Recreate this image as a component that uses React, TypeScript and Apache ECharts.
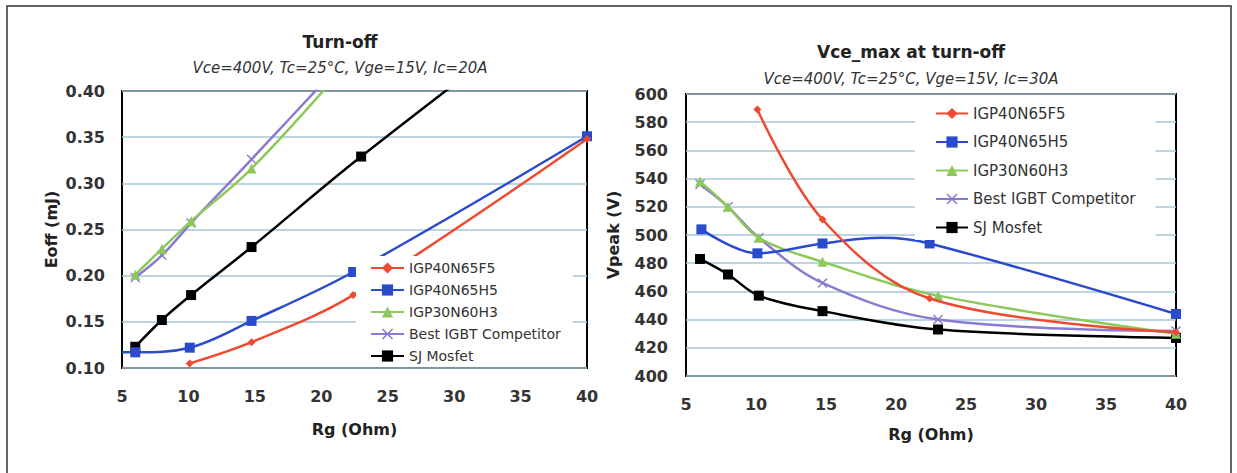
import React, { useEffect, useRef } from "react";
import * as echarts from "echarts";

// ---------- Data ----------
const seriesNames = ["IGP40N65F5", "IGP40N65H5", "IGP30N60H3", "Best IGBT Competitor", "SJ Mosfet"];
const xTicks = [5, 10, 15, 20, 25, 30, 35, 40];

// Left chart: Eoff (mJ) vs Rg (Ohm)
const eoffF5: [number, number][] = [[10.1, 0.105], [14.75, 0.128], [22.4, 0.179], [40, 0.348]];
const eoffH5: [number, number][] = [[5, 0.117], [6, 0.117], [10.1, 0.122], [14.75, 0.151], [22.4, 0.204], [40, 0.351]];
const eoffH3: [number, number][] = [[6, 0.201], [8, 0.229], [10.2, 0.259], [14.75, 0.316], [22.4, 0.437]];
const eoffBest: [number, number][] = [[6, 0.198], [8, 0.222], [10.2, 0.257], [14.75, 0.326], [22.4, 0.444]];
const eoffSJ: [number, number][] = [[6, 0.123], [8, 0.152], [10.2, 0.179], [14.75, 0.231], [23, 0.329], [40, 0.517]];
// indices of points drawn without a marker (curve-shape points)
const eoffH5Hidden = [0];

// Right chart: Vpeak (V) vs Rg (Ohm)
const vpF5: [number, number][] = [[10.1, 589], [14.75, 511], [22.4, 455], [40, 431]];
const vpH5: [number, number][] = [[6.1, 504], [10.1, 487], [14.75, 494], [19, 498], [22.4, 494], [40, 444]];
const vpH3: [number, number][] = [[6, 538], [8, 520], [10.2, 498], [14.75, 481], [23, 457], [40, 430]];
const vpBest: [number, number][] = [[6, 536], [8, 520], [10.2, 498], [14.75, 466], [23, 440], [40, 432]];
const vpSJ: [number, number][] = [[6, 483], [8, 472], [10.2, 457], [14.75, 446], [23, 433], [40, 427]];
const vpH5Hidden = [3];

// ---------- Styles ----------
const FONT = "DejaVu Sans";
const colors = ["#ee4a30", "#2a4ccc", "#8cc85a", "#8a7ad0", "#000000"];
const xSymbol = "path://M0,1L1,0L5,4L9,0L10,1L6,5L10,9L9,10L5,6L1,10L0,9L4,5Z";
const symbols = ["diamond", "rect", "triangle", xSymbol, "rect"];
const symbolSizes = [8, 10, 10, 10, 10];
const gridColor = "#a6c7d6";

function makeSeries(idx: number, data: [number, number][], gridIdx: number, hidden: number[] = []) {
  return {
    type: "line",
    name: seriesNames[idx],
    xAxisIndex: gridIdx,
    yAxisIndex: gridIdx,
    data: data.map((d, i) => (hidden.includes(i) ? { value: d, symbol: "none" } : d)),
    smooth: 0.35,
    symbol: symbols[idx],
    symbolSize: symbolSizes[idx],
    showAllSymbol: true,
    clip: true,
    lineStyle: { color: colors[idx], width: 2.5 },
    itemStyle: { color: colors[idx] },
    z: 2 + (4 - idx) * 0.01,
  };
}

export default function App() {
  const ref = useRef<HTMLDivElement>(null);
  useEffect(() => {
    document.body.style.margin = "0";
    const chart = echarts.init(ref.current!, null, { renderer: "svg" });
    const axisLabel = { color: "#333", fontFamily: FONT, fontSize: 16, fontWeight: "bold" };
    const nameStyle = { color: "#222", fontFamily: FONT, fontSize: 16, fontWeight: "bold" };
    const legendBase = {
      orient: "vertical",
      backgroundColor: "#ffffff",
      itemHeight: 14,
      data: seriesNames,
      selectedMode: false,
      borderWidth: 0,
    };
    const txt = (x: number, y: number, text: string, font: string, fill: string) => ({
      type: "text",
      x,
      y,
      style: {
        text,
        font,
        fill,
        align: "center",
        verticalAlign: "middle",
        textAlign: "center",
        textVerticalAlign: "middle",
      },
    });
    chart.setOption({
      animation: false,
      backgroundColor: "#ffffff",
      grid: [
        { left: 122, top: 91, width: 465, height: 277, show: true, borderColor: "#000", borderWidth: 2, backgroundColor: "transparent" },
        { left: 686, top: 94, width: 490, height: 282, show: true, borderColor: "#000", borderWidth: 2, backgroundColor: "transparent" },
      ],
      xAxis: [0, 1].map((g) => ({
        type: "value",
        gridIndex: g,
        min: 5,
        max: 40,
        interval: 5,
        axisLine: { show: false },
        axisTick: { show: false },
        splitLine: { show: false },
        axisLabel: { ...axisLabel, margin: 20, formatter: (v: number) => (xTicks.includes(v) ? String(v) : "") },
        name: "Rg (Ohm)",
        nameLocation: "middle",
        nameGap: g === 0 ? 53 : 50,
        nameTextStyle: nameStyle,
      })),
      yAxis: [
        {
          type: "value",
          gridIndex: 0,
          min: 0.1,
          max: 0.4,
          interval: 0.05,
          axisLine: { show: false },
          axisTick: { show: false },
          splitLine: { show: true, lineStyle: { color: gridColor, width: 1.5 } },
          axisLabel: { ...axisLabel, margin: 17, formatter: (v: number) => v.toFixed(2) },
          name: "Eoff (mJ)",
          nameLocation: "middle",
          nameGap: 63,
          nameTextStyle: nameStyle,
        },
        {
          type: "value",
          gridIndex: 1,
          min: 400,
          max: 600,
          interval: 20,
          axisLine: { show: false },
          axisTick: { show: false },
          splitLine: { show: true, lineStyle: { color: gridColor, width: 1.5 } },
          axisLabel: { ...axisLabel, margin: 18 },
          name: "Vpeak (V)",
          nameLocation: "middle",
          nameGap: 65,
          nameTextStyle: nameStyle,
        },
      ],
      legend: [
        {
          ...legendBase,
          left: 356,
          top: 256,
          padding: [5, 12, 3, 14],
          itemGap: 8,
          itemWidth: 33,
          textStyle: { color: "#333", fontFamily: FONT, fontSize: 14 },
        },
        {
          ...legendBase,
          left: 915,
          top: 96,
          padding: [10, 20, 5, 20],
          itemGap: 13.5,
          itemWidth: 32,
          textStyle: { color: "#333", fontFamily: FONT, fontSize: 15 },
        },
      ],
      graphic: [
        {
          type: "rect",
          shape: { x: 7, y: 6, width: 1224, height: 520 },
          style: { fill: "none", stroke: "#333", lineWidth: 1.5 },
          silent: true,
        },
        txt(340, 42, "Turn-off", `bold 17px "${FONT}"`, "#222"),
        txt(340, 68, "Vce=400V, Tc=25°C, Vge=15V, Ic=20A", `italic 15px "${FONT}"`, "#333"),
        txt(911, 52, "Vce_max at turn-off", `bold 17px "${FONT}"`, "#222"),
        txt(911, 79, "Vce=400V, Tc=25°C, Vge=15V, Ic=30A", `italic 15px "${FONT}"`, "#333"),
      ],
      series: [
        makeSeries(0, eoffF5, 0),
        makeSeries(1, eoffH5, 0, eoffH5Hidden),
        makeSeries(2, eoffH3, 0),
        makeSeries(3, eoffBest, 0),
        makeSeries(4, eoffSJ, 0),
        makeSeries(0, vpF5, 1),
        makeSeries(1, vpH5, 1, vpH5Hidden),
        makeSeries(2, vpH3, 1),
        makeSeries(3, vpBest, 1),
        makeSeries(4, vpSJ, 1),
      ],
    });
    return () => chart.dispose();
  }, []);
  return <div ref={ref} style={{ width: 1237, height: 473 }} />;
}
